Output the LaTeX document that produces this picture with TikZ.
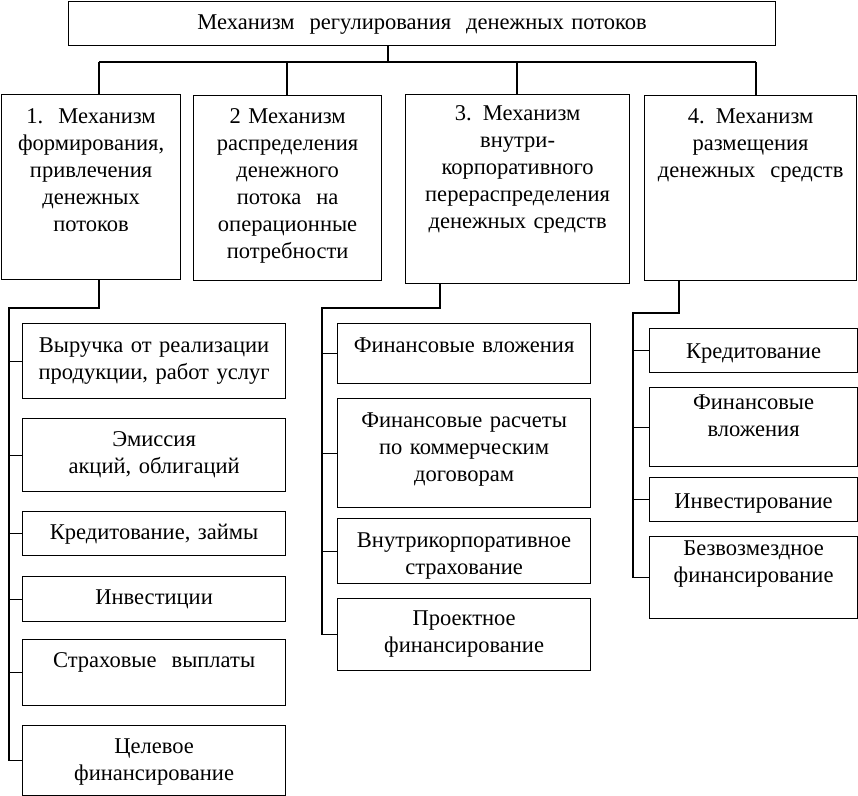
\documentclass[tikz,border=0pt]{standalone}
\usepackage{fontspec}
\setmainfont{Liberation Serif}
\begin{document}
\begin{tikzpicture}[x=0.75pt, y=-0.75pt,
    box/.style={draw, line width=0.9pt, anchor=north west, align=center, inner xsep=0pt, inner ysep=0pt, font=\fontsize{16.9}{20.25}\selectfont},
    lay/.style 2 args={text height=#1, text depth=#2},
    colA/.style={box, text width=197.25pt},
    colC/.style={box, text width=189.75pt},
    colD/.style={box, text width=156pt},
    link/.style={line width=0.9pt}
  ]
    \useasboundingbox (0,0) rectangle (858,796);

    \node[box, text width=530.25pt, lay={21pt}{12pt}] (main) at (68,1) {Механизм\ \ регулирования\ \ денежных потоков};

    \node[box, text width=134.25pt, lay={21.75pt}{117pt}] (mech1) at (1,94) {1.\ \ Механизм\\формирования,\\привлечения\\денежных\\потоков};
    \node[box, text width=141pt, lay={21pt}{117.75pt}] (mech2) at (193,95) {2 Механизм\\распределения\\денежного\\потока\ \ на\\операционные\\потребности};
    \node[box, text width=168pt, lay={19.5pt}{122.25pt}] (mech3) at (405,94) {3. Механизм\\внутри-\\корпоративного\\перераспределения\\денежных средств};
    \node[box, text width=159pt, lay={21pt}{117.75pt}] (mech4) at (644,95) {4. Механизм\\размещения\\денежных\ \ средств};

    \node[colA, lay={21.75pt}{34.5pt}] (src1) at (22,323) {Выручка от реализации\\продукции, работ услуг};
    \node[colA, lay={21pt}{33.75pt}] (src2) at (22,418) {Эмиссия\\акций, облигаций};
    \node[colA, lay={21pt}{12pt}] (src3) at (22,511) {Кредитование, займы};
    \node[colA, lay={21pt}{12.75pt}] (src4) at (22,576) {Инвестиции};
    \node[colA, lay={21pt}{28.5pt}] (src5) at (22,639) {Страховые\ \ выплаты};
    \node[colA, lay={21pt}{31.5pt}] (src6) at (22,725) {Целевое\\финансирование};

    \node[colC, lay={21.75pt}{23.25pt}] (in1) at (337,323) {Финансовые вложения};
    \node[colC, lay={21.75pt}{60pt}] (in2) at (337,398) {Финансовые расчеты\\по коммерческим\\договорам};
    \node[colC, lay={21.75pt}{27pt}] (in3) at (337,518) {Внутрикорпоративное\\страхование};
    \node[colC, lay={20.25pt}{33.75pt}] (in4) at (337,598) {Проектное\\финансирование};

    \node[colD, lay={22.5pt}{10.5pt}] (pl1) at (649,328) {Кредитование};
    \node[colD, lay={16.5pt}{42.75pt}] (pl2) at (649,387) {Финансовые\\вложения};
    \node[colD, lay={23.25pt}{9.75pt}] (pl3) at (649,477) {Инвестирование};
    \node[colD, lay={14.25pt}{47.25pt}] (pl4) at (649,536) {Безвозмездное\\финансирование};

    \coordinate (j0) at (388,62);
    \coordinate (j1) at (99,62);
    \coordinate (j2) at (287,62);
    \coordinate (j3) at (517,62);
    \coordinate (j4) at (756,62);
    \coordinate (c1) at (9,308);
    \coordinate (k3) at (440,308);
    \coordinate (c3) at (322,308);
    \coordinate (k4) at (679,313);
    \coordinate (c4) at (633,313);

    \draw[link] (main.south -| j0) -- (j0);
    \draw[link] (j1) -- (j4);
    \draw[link] (j1) -- (j1 |- mech1.north);
    \draw[link] (j2) -- (j2 |- mech2.north);
    \draw[link] (j3) -- (j3 |- mech3.north);
    \draw[link] (j4) -- (j4 |- mech4.north);

    \draw[link] (mech1.south -| j1) |- (c1) -- (c1 |- src6.west);
    \draw[link] (c1 |- src1.west) -- (src1.west);
    \draw[link] (c1 |- src2.west) -- (src2.west);
    \draw[link] (c1 |- src3.west) -- (src3.west);
    \draw[link] (c1 |- src4.west) -- (src4.west);
    \draw[link] (c1 |- src5.west) -- (src5.west);
    \draw[link] (c1 |- src6.west) -- (src6.west);

    \draw[link] (mech3.south -| k3) -- (k3) -- (c3) -- (c3 |- in4.west);
    \draw[link] (c3 |- in1.west) -- (in1.west);
    \draw[link] (c3 |- in2.west) -- (in2.west);
    \draw[link] (c3 |- in3.west) -- (in3.west);
    \draw[link] (c3 |- in4.west) -- (in4.west);

    \draw[link] (mech4.south -| k4) -- (k4) -- (c4) -- (c4 |- pl4.west);
    \draw[link] (c4 |- pl1.west) -- (pl1.west);
    \draw[link] (c4 |- pl2.west) -- (pl2.west);
    \draw[link] (c4 |- pl3.west) -- (pl3.west);
    \draw[link] (c4 |- pl4.west) -- (pl4.west);
  \end{tikzpicture}
\end{document}
